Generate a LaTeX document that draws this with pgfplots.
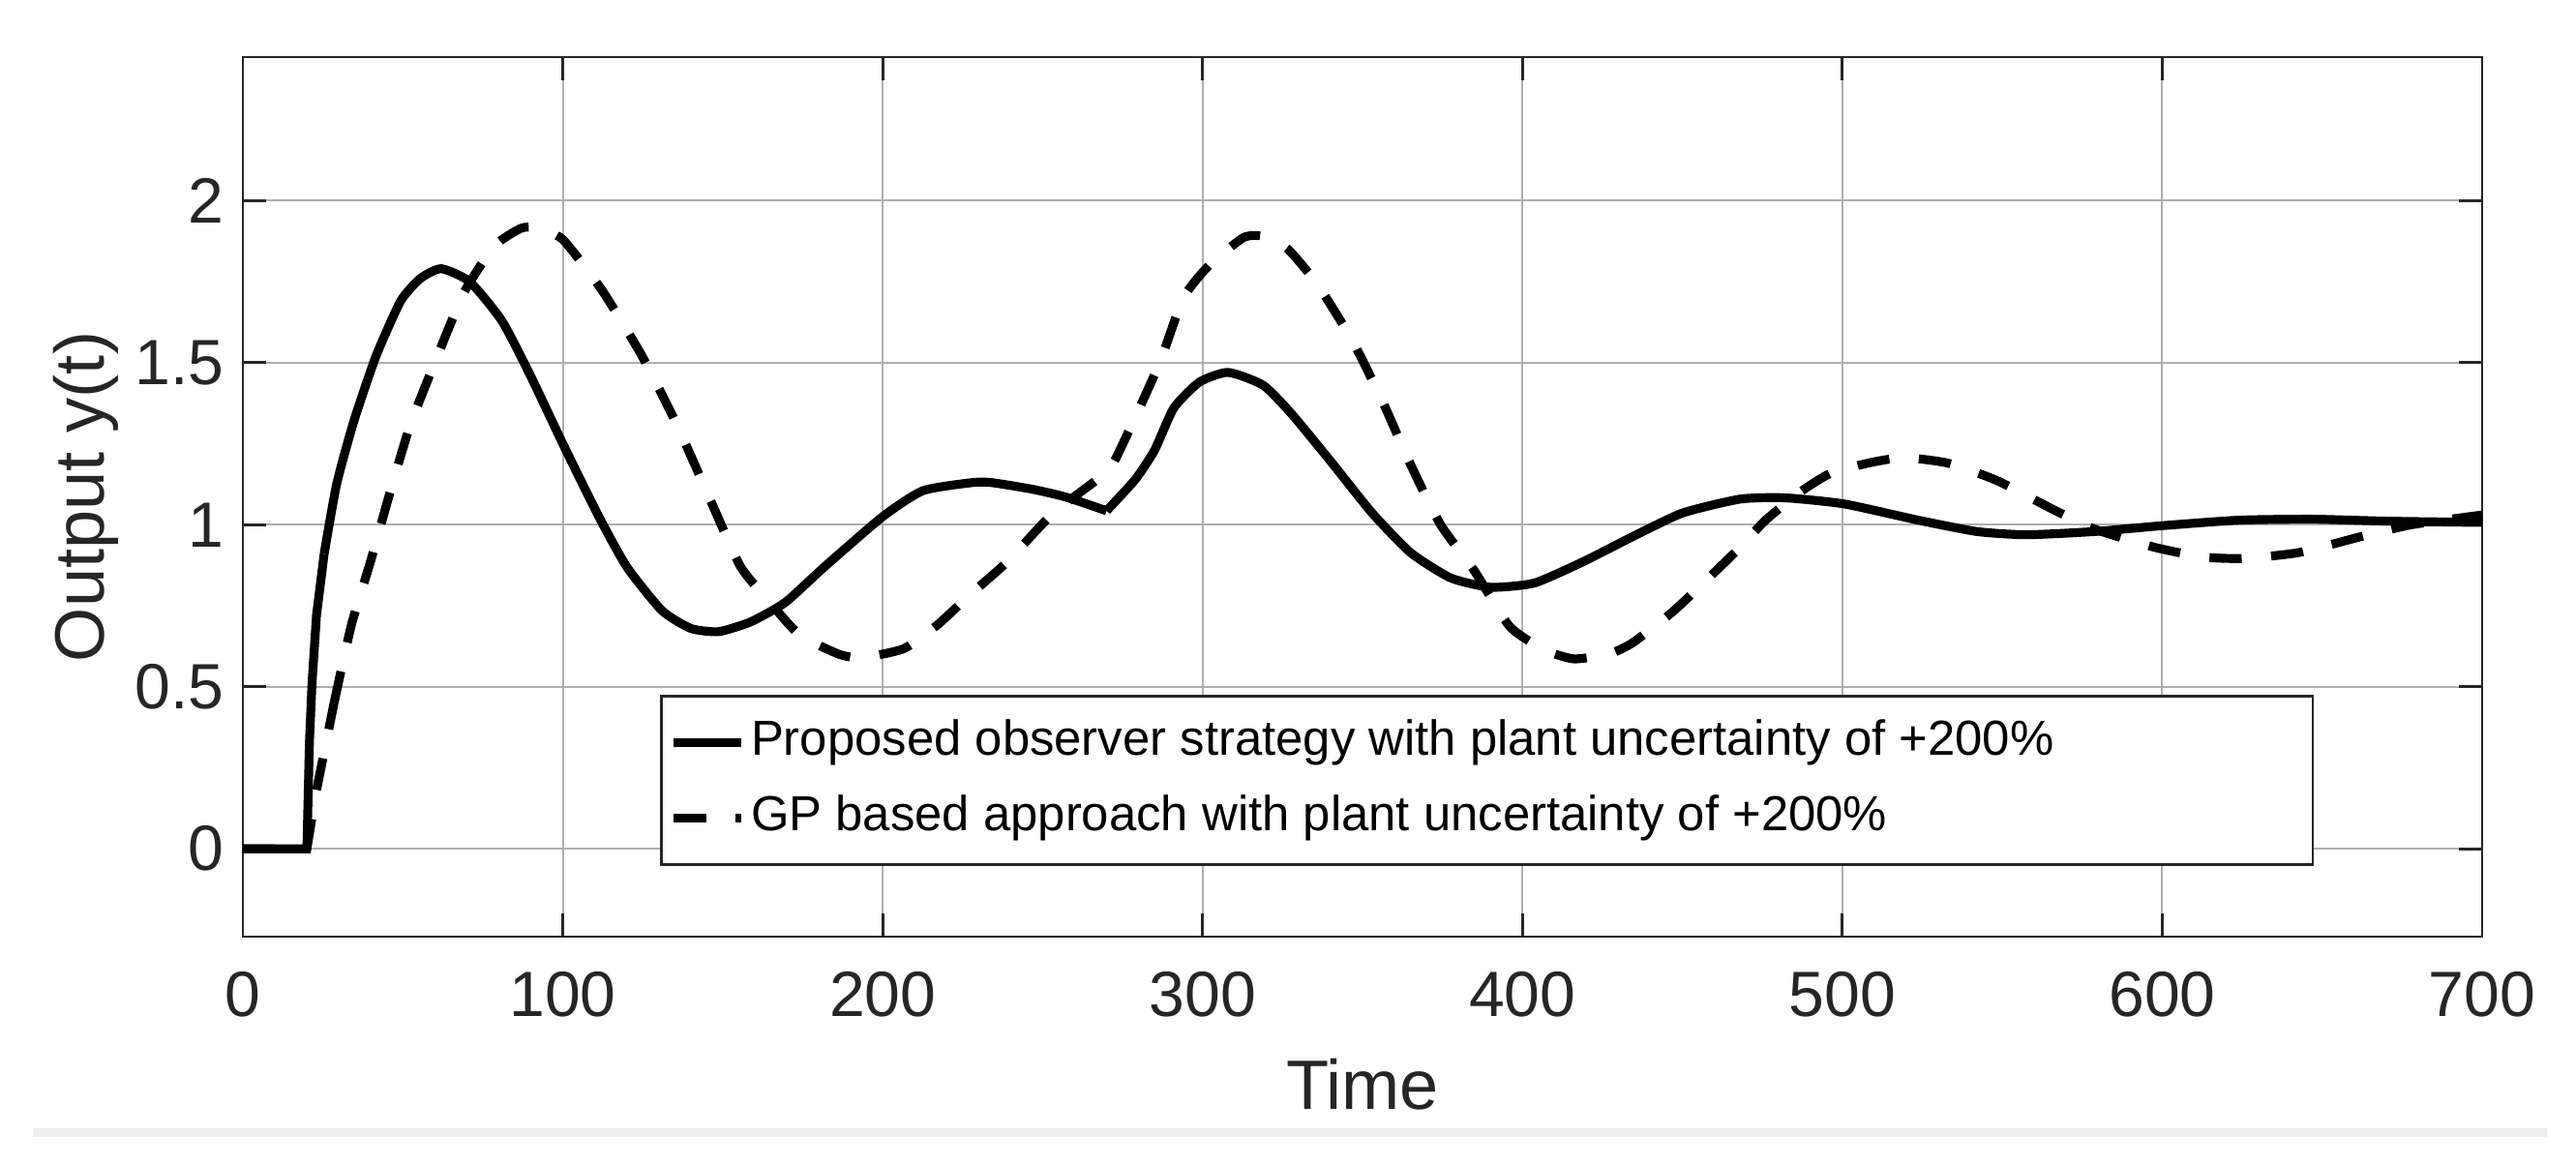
\documentclass[border=0pt]{standalone}
\usepackage{fontspec}
\setmainfont{Liberation Sans}
\usepackage{pgfplots}
\pgfplotsset{compat=1.18}
\usetikzlibrary{calc}
\definecolor{axc}{RGB}{38,38,38}
\definecolor{gridc}{RGB}{175,175,175}
\definecolor{bandc}{RGB}{238,238,238}
\begin{document}
\begin{tikzpicture}
\begin{axis}[name=ax, scale only axis, width=416.5pt, height=163.6pt,
 xmin=0, xmax=700, ymin=-0.271, ymax=2.443,
 xtick={0,100,...,700}, ytick={0,0.5,1,1.5,2},
 grid=major, major grid style={gridc, line width=0.35pt},
 axis line style={axc, line width=0.5pt},
 tick style={axc, line width=0.5pt}, tick align=inside, major tick length=4.3pt,
 xtick pos=both, ytick pos=both,
 ticklabel style={font=\fontsize{11.9}{14}\selectfont, text=axc},
 /pgf/number format/assume math mode=true,
 xticklabel style={yshift=-3pt},
 xlabel={Time}, ylabel={Output y(t)},
 label style={font=\fontsize{13}{15}\selectfont, text=axc},
 xlabel style={at={(axis description cs:0.5,-0.1675)}, anchor=center},
 ylabel style={at={(axis description cs:-0.0703,0.5)}, anchor=center},
 legend style={at={(rel axis cs:0.925,0.080)}, anchor=south east,
   draw=axc, line width=0.5pt, fill=white, font=\fontsize{9.15}{11}\selectfont,
   inner xsep=1.5pt, inner ysep=2.5pt, row sep=1.8pt,
   nodes={inner sep=1pt, text height=0.75em, text depth=0.28em}},
 legend cell align=left,
 legend image code/.code={\draw[#1] (0cm,0cm) -- (0.44cm,0cm);},
]
% Proposed observer strategy
\addplot[black, line width=1.65pt, line join=round] coordinates {
(0,0) (20,0) (20.8,0.33) (21.6,0.51) (23,0.72) (25.4,0.91)
};
\addlegendentry{\makebox[288pt][l]{Proposed observer strategy with plant uncertainty of +200\%}}
\addplot[black, line width=1.65pt, line join=round, smooth, tension=0.35, forget plot] coordinates {
(25.4,0.91) (29.3,1.125) (34.7,1.32)
(41.6,1.52) (49.3,1.69) (55.5,1.76) (62,1.79) (70.9,1.75) (80.9,1.63) (89.4,1.47)
(100,1.25) (111,1.03) (120,0.87) (131,0.735) (140,0.68) (148.7,0.67) (158.7,0.70)
(169.5,0.76) (181.8,0.87) (200,1.025) (212.6,1.105) (228,1.13) (234,1.13) (246.5,1.11)
(257,1.086) (270,1.043)
};
\addplot[black, line width=1.65pt, line join=round, smooth, tension=0.35, forget plot] coordinates {
(270,1.043) (279,1.14) (285,1.23) (291,1.36) (299,1.44) (308,1.47)
(319,1.43) (328,1.34) (340.5,1.19) (353,1.036) (365,0.914) (377.5,0.836) (390,0.807)
(403.7,0.82) (419,0.886) (434.6,0.964) (450,1.036) (468,1.079) (482,1.083) (500.6,1.064)
(523.7,1.014) (542,0.979) (557.6,0.969) (579,0.979) (600,0.997) (624,1.014) (647,1.017)
(670,1.011) (700,1.007)
};
% GP based approach
\addplot[black, line width=1.65pt, dash pattern=on 6pt off 5.5pt] coordinates {
(0,0) (20,0) (23,0.18) (28.5,0.45)
};
\addlegendentry{GP based approach with plant uncertainty of +200\%}
\addplot[black, line width=1.65pt, dash pattern=on 6pt off 5.5pt, smooth, tension=0.35, forget plot] coordinates {
(28.5,0.45) (33.9,0.69) (40,0.89) (46.2,1.107) (52.4,1.31)
(61.6,1.54) (69.3,1.72) (78.6,1.86) (87,1.915) (92,1.915) (100,1.88) (112.5,1.72)
(124.8,1.52) (135.6,1.31) (146.4,1.07) (155.6,0.87) (164.8,0.76) (174,0.66) (186.4,0.60)
(193.4,0.59) (206.5,0.617) (217,0.69) (228,0.79) (239,0.886) (252.7,1.03) (266.6,1.136)
(271,1.17) (277,1.29) (286.6,1.5) (294,1.70) (302,1.80) (312.8,1.886) (319,1.89)
(326.7,1.85) (336,1.74) (346.7,1.57) (356,1.386) (365,1.186) (374.4,1.0) (385,0.857)
(396,0.686) (406.8,0.614) (416,0.586) (426.8,0.6) (434.5,0.636) (446.8,0.73) (457.6,0.83)
(468,0.93) (476,1.014) (486.7,1.1) (496,1.157) (508,1.19) (519,1.207) (533,1.19)
(548.4,1.136) (565.3,1.05) (579,0.986) (597.7,0.93) (613,0.9) (625.6,0.896) (642.6,0.914)
(662.4,0.964) (678,1.0) (700,1.03)
};
\end{axis}
\fill[bandc] ($(ax.south west)+(-39.06pt,-35.6pt)$) rectangle ($(ax.south east)+(12.06pt,-37.2pt)$);
\pgfresetboundingbox
\path ($(ax.south west)+(-45.18pt,-42.48pt)$) rectangle ($(ax.north east)+(17.46pt,10.62pt)$);
\end{tikzpicture}
\end{document}
